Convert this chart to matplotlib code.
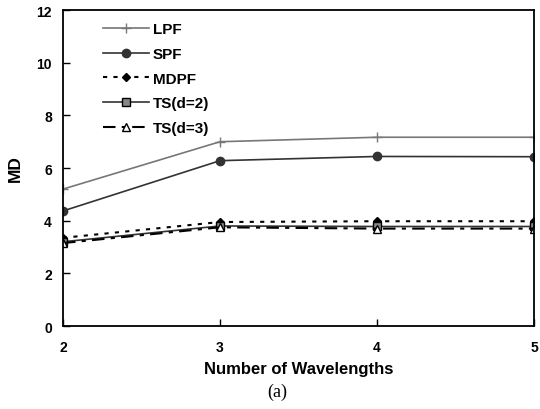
import numpy as np
import matplotlib
matplotlib.use('Agg')
import matplotlib.pyplot as plt

plt.rcParams['font.family'] = ['Liberation Sans', 'DejaVu Sans']

wavelengths = [2, 3, 4, 5]
lpf = [5.2, 7.0, 7.17, 7.17]
spf = [4.37, 6.28, 6.44, 6.43]
mdpf = [3.35, 3.95, 3.98, 3.98]
ts_d2 = [3.2, 3.8, 3.78, 3.78]
ts_d3 = [3.15, 3.75, 3.7, 3.7]

fig = plt.figure(figsize=(5.4, 4.1), dpi=100)
ax = fig.add_axes([0.1167, 0.2024, 0.8723, 0.7706])

ax.plot(wavelengths, lpf, color='#777777', lw=1.2, marker='+', ms=7, label='LPF')
ax.plot(wavelengths, spf, color='#333333', lw=1.2, marker='o', ms=6, label='SPF')
ax.plot(wavelengths, mdpf, color='black', lw=1.5, ls=(0, (2, 3)), marker='D', ms=4.5, label='MDPF')
ax.plot(wavelengths, ts_d2, color='#333333', lw=1.2, marker='s', ms=6, mfc='#888888', mec='black', label='TS(d=2)')
ax.plot(wavelengths, ts_d3, color='black', lw=1.5, ls=(0, (6, 3, 2, 3)), marker='^', ms=6, mfc='white', mec='black', label='TS(d=3)')

ax.set_xlim(2, 5)
ax.set_ylim(0, 12)
ax.set_xticks(wavelengths)
ax.set_yticks(range(0, 13, 2))
ax.tick_params(direction='in', length=5, width=1, labelsize=10, pad=8)
for lab in ax.get_xticklabels() + ax.get_yticklabels():
    lab.set_fontweight('bold')
ax.tick_params(axis='x', pad=10)
for s in ax.spines.values():
    s.set_linewidth(1.3)

ax.set_xlabel('Number of Wavelengths', fontsize=12, fontweight='bold', labelpad=5)
ax.set_ylabel('MD', fontsize=12.5, fontweight='bold', labelpad=10)

ax.legend(loc='upper left', frameon=False, handlelength=3.0, handletextpad=0.3,
          bbox_to_anchor=(0.055, 1.005), labelspacing=0.7, prop={'weight': 'bold', 'size': 11})

fig.text(0.513, 0.044, '(a)', ha='center', va='center', fontsize=13, family='Liberation Serif')

fig.savefig('out.png', dpi=100)
